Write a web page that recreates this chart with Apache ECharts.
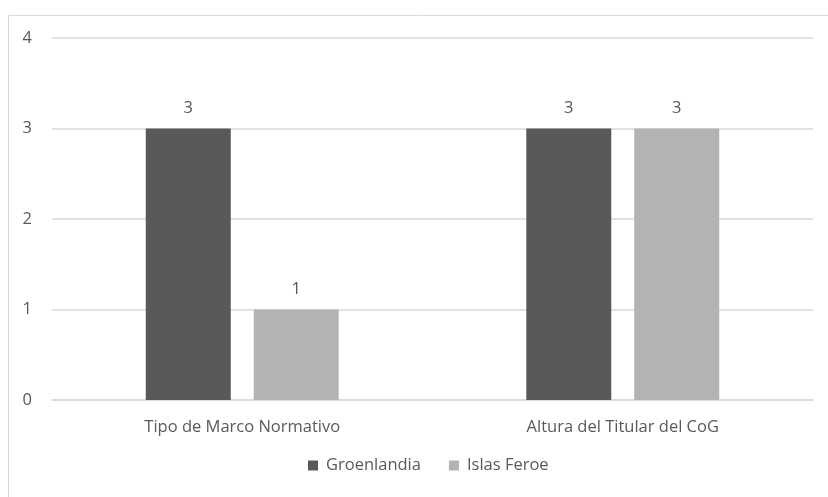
<!DOCTYPE html>
<html>
<head>
<meta charset="utf-8">
<script src="https://cdn.jsdelivr.net/npm/echarts@6/dist/echarts.min.js"></script>
<style>
  html, body { margin: 0; padding: 0; background: #ffffff; }
  #chart { width: 828px; height: 497px; }
</style>
</head>
<body>
<div id="chart"></div>
<script>
const categories = ['Tipo de Marco Normativo', 'Altura del Titular del CoG'];
const groenlandia = [3, 3];
const islasFeroe = [1, 3];
const yTicks = [0, 1, 2, 3, 4];

const textColor = '#595959';
const fontFamily = 'Open Sans, Lato, sans-serif';
const fontSize = 16.5;

const chart = echarts.init(document.getElementById('chart'), null, { renderer: 'canvas' });

const labelStyle = {
  show: true,
  position: 'top',
  distance: 12,
  color: textColor,
  fontSize: fontSize,
  fontFamily: fontFamily
};

chart.setOption({
  animation: false,
  backgroundColor: '#ffffff',
  graphic: [{
    type: 'rect',
    left: 6,
    top: 13,
    shape: { width: 840, height: 500 },
    style: { fill: 'none', stroke: '#d9d9d9', lineWidth: 1 },
    silent: true,
    z: -1
  }],
  grid: { left: 52, right: 15, top: 38, bottom: 97, containLabel: false },
  legend: {
    bottom: 18,
    left: 303,
    itemWidth: 10,
    itemHeight: 10,
    itemGap: 28,
    icon: 'rect',
    textStyle: { color: textColor, fontSize: fontSize, fontFamily: fontFamily, padding: [0, 0, 0, 3] },
    data: ['Groenlandia', 'Islas Feroe']
  },
  xAxis: {
    type: 'category',
    data: categories,
    axisLine: { show: true, lineStyle: { color: '#d9d9d9', width: 1.5 } },
    axisTick: { show: false },
    axisLabel: { color: textColor, fontSize: fontSize, fontFamily: fontFamily, margin: 19 }
  },
  yAxis: {
    type: 'value',
    min: yTicks[0],
    max: yTicks[yTicks.length - 1],
    interval: 1,
    axisLine: { show: false },
    axisTick: { show: false },
    axisLabel: { color: textColor, fontSize: fontSize, fontFamily: fontFamily, margin: 20 },
    splitLine: { lineStyle: { color: '#d9d9d9', width: 1.5 } }
  },
  series: [
    {
      name: 'Groenlandia',
      type: 'bar',
      data: groenlandia,
      barWidth: 85,
      barGap: '27%',
      itemStyle: { color: '#595959' },
      label: labelStyle
    },
    {
      name: 'Islas Feroe',
      type: 'bar',
      data: islasFeroe,
      barWidth: 85,
      itemStyle: { color: '#b3b3b3' },
      label: labelStyle
    }
  ]
});
</script>
</body>
</html>
